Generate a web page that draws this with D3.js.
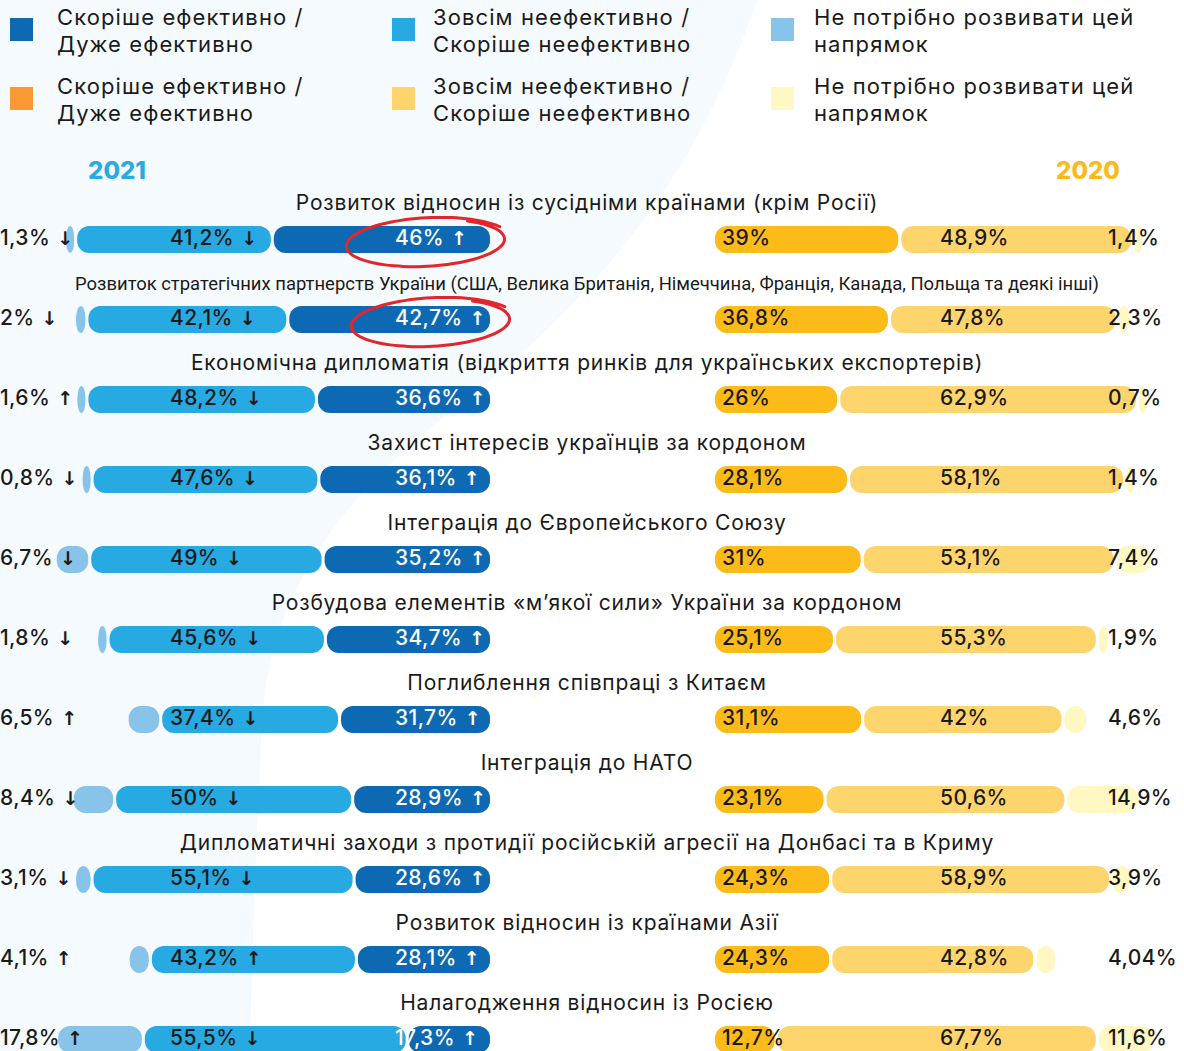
<!DOCTYPE html>
<html>
<head>
<meta charset="utf-8">
<script src="https://cdn.jsdelivr.net/npm/d3@7"></script>
<style>
  body { margin: 0; background: #fff; }
  svg { display: block; font-family: Inter, "Noto Sans", sans-serif; }
</style>
</head>
<body>
<svg id="chart"></svg>
<script>
// Row titles (directions of foreign policy)
var titles = [
    "Розвиток відносин із сусідніми країнами (крім Росії)",
    "Розвиток стратегічних партнерств України (США, Велика Британія, Німеччина, Франція, Канада, Польща та деякі інші)",
    "Економічна дипломатія (відкриття ринків для українських експортерів)",
    "Захист інтересів українців за кордоном",
    "Інтеграція до Європейського Союзу",
    "Розбудова елементів «м’якої сили» України за кордоном",
    "Поглиблення співпраці з Китаєм",
    "Інтеграція до НАТО",
    "Дипломатичні заходи з протидії російській агресії на Донбасі та в Криму",
    "Розвиток відносин із країнами Азії",
    "Налагодження відносин із Росією"
];

// 2021
var eff2021 = [46, 42.7, 36.6, 36.1, 35.2, 34.7, 31.7, 28.9, 28.6, 28.1, 17.3];
var effTrend2021 = ["↑", "↑", "↑", "↑", "↑", "↑", "↑", "↑", "↑", "↑", "↑"];
var ineff2021 = [41.2, 42.1, 48.2, 47.6, 49, 45.6, 37.4, 50, 55.1, 43.2, 55.5];
var ineffTrend2021 = ["↓", "↓", "↓", "↓", "↓", "↓", "↓", "↓", "↓", "↑", "↓"];
var notNeeded2021 = [1.3, 2, 1.6, 0.8, 6.7, 1.8, 6.5, 8.4, 3.1, 4.1, 17.8];
var notNeededTrend2021 = ["↓", "↓", "↑", "↓", "↓", "↓", "↑", "↓", "↓", "↑", "↑"];

// 2020
var eff2020 = [39, 36.8, 26, 28.1, 31, 25.1, 31.1, 23.1, 24.3, 24.3, 12.7];
var ineff2020 = [48.9, 47.8, 62.9, 58.1, 53.1, 55.3, 42, 50.6, 58.9, 42.8, 67.7];
var notNeeded2020 = [1.4, 2.3, 0.7, 1.4, 7.4, 1.9, 4.6, 14.9, 3.9, 4.04, 11.6];

var legendLabels = [
    ["Скоріше ефективно /", "Дуже ефективно"],
    ["Зовсім неефективно /", "Скоріше неефективно"],
    ["Не потрібно розвивати цей", "напрямок"]
];
var years = ["2021", "2020"];
var highlighted = [0, 1]; // rows circled in red

// Colours
var blues = ["#0e69b3", "#27a9e1", "#88c4ea"];
var yellows = ["#fdbb1a", "#fed46c", "#fff8c2"];
var legendYellows = ["#f99b32", "#fed46c", "#fef9c4"];

var width = 1184, height = 1051;
var leftEnd = 490, rightStart = 715, gap = 3, barH = 27;

var x = d3.scaleLinear().domain([0, 100]).range([0, 470]);
var y = d3.scalePoint().domain(titles).range([239.5, 1039.5]);

function fmt(v) { return String(v).replace(".", ",") + "%"; }

var svg = d3.select("#chart").attr("width", width).attr("height", height);

// Background decoration
svg.append("path")
    .attr("d", "M0,0 H757 C700,170 600,300 440,420 C330,510 270,600 262,720 C256,850 252,950 250,1051 H0 Z")
    .attr("fill", "#f5faff");

// Legend
var legend = svg.append("g").attr("class", "legend");
var legendCols = [10, 392, 771];
var legendText = [47, 41, 43];
[blues, legendYellows].forEach(function(cols, r) {
    cols.forEach(function(c, k) {
        var g = legend.append("g").attr("transform", "translate(" + legendCols[k] + "," + (18 + r * 69) + ")");
        g.append("rect").attr("width", 23).attr("height", 23).attr("fill", c);
        var t = g.append("text")
            .attr("font-size", 22)
            .attr("letter-spacing", 1.1)
            .attr("fill", "#1a1a1a");
        legendLabels[k].forEach(function(line, j) {
            t.append("tspan").attr("x", legendText[k]).attr("y", 7 + j * 27).text(line);
        });
    });
});

// Year headers
svg.append("text").attr("x", 117).attr("y", 179).attr("text-anchor", "middle")
    .attr("font-size", 24).attr("font-weight", 800).attr("fill", "#29abe2").text(years[0]);
svg.append("text").attr("x", 1088).attr("y", 179).attr("text-anchor", "middle")
    .attr("font-size", 24).attr("font-weight", 800).attr("fill", "#fbba18").text(years[1]);

// Build segments for each row
var rows = titles.map(function(t, i) {
    var left = [
        { v: eff2021[i], c: blues[0], tc: "#fff", lx: 395, arrow: effTrend2021[i] },
        { v: ineff2021[i], c: blues[1], tc: "#1a1a1a", lx: 170, arrow: ineffTrend2021[i] },
        { v: notNeeded2021[i], c: blues[2], tc: "#1a1a1a", lx: 0, arrow: notNeededTrend2021[i] }
    ];
    var pos = leftEnd;
    left.forEach(function(p) {
        p.w = Math.max(x(p.v), 8);
        p.x0 = pos - p.w;
        pos = p.x0 - gap;
    });
    var right = [
        { v: eff2020[i], c: yellows[0], tc: "#1a1a1a", lx: 722 },
        { v: ineff2020[i], c: yellows[1], tc: "#1a1a1a", lx: 940 },
        { v: notNeeded2020[i], c: yellows[2], tc: "#1a1a1a", lx: 1108 }
    ];
    pos = rightStart;
    right.forEach(function(p) {
        p.w = Math.max(x(p.v), 8);
        p.x0 = pos;
        pos = p.x0 + p.w + gap;
    });
    return { title: t, i: i, segs: left.concat(right) };
});

var row = svg.selectAll(".row")
    .data(rows)
  .enter().append("g")
    .attr("class", "row")
    .attr("transform", function(d) { return "translate(0," + y(d.title) + ")"; });

// Row titles
row.append("text")
    .attr("class", "title")
    .attr("x", 587)
    .attr("y", -29.5)
    .attr("text-anchor", "middle")
    .attr("font-size", 21)
    .attr("letter-spacing", 0.8)
    .attr("fill", "#1a1a1a")
    .each(function(d) {
        // the long title is set in a condensed face
        if (d.title.length > 80) {
            d3.select(this)
                .attr("font-family", "'Liberation Sans Narrow', 'Roboto', sans-serif")
                .attr("font-size", 19)
                .attr("letter-spacing", 0)
                .attr("textLength", 1024)
                .attr("lengthAdjust", "spacingAndGlyphs");
        }
    })
    .text(function(d) { return d.title; });

// Bars
row.selectAll("rect")
    .data(function(d) { return d.segs; })
  .enter().append("rect")
    .attr("x", function(d) { return d.x0; })
    .attr("y", -barH / 2)
    .attr("width", function(d) { return d.w; })
    .attr("height", barH)
    .attr("rx", function(d) { return Math.min(12, d.w / 2); })
    .attr("ry", 12)
    .attr("fill", function(d) { return d.c; });

// Value labels
var label = row.selectAll(".val")
    .data(function(d) { return d.segs; })
  .enter().append("text")
    .attr("class", "val")
    .attr("x", function(d) { return d.lx; })
    .attr("y", 5)
    .attr("font-size", 21)
    .attr("font-weight", 500)
    .attr("letter-spacing", 0.4)
    .attr("fill", function(d) { return d.tc; });

label.append("tspan").text(function(d) { return fmt(d.v); });
label.filter(function(d) { return d.arrow; })
    .append("tspan")
    .attr("dx", 7)
    .attr("font-family", "'DejaVu Sans', sans-serif")
    .attr("font-weight", 700)
    .attr("font-size", 19)
    .text(function(d) { return d.arrow; });

// Red hand-drawn circles around highlighted values
function scribble(cx, cy, rx, ry) {
    var pts = d3.range(0, 1.09, 0.02).map(function(f) {
        var a = -1.0 + f * 2 * Math.PI;
        var k = 0.96 + 0.08 * f;
        return [cx + rx * k * Math.cos(a), cy + ry * k * Math.sin(a)];
    });
    return d3.line().curve(d3.curveBasis)(pts);
}
highlighted.forEach(function(i) {
    var cy = y(titles[i]) + 3;
    var cx = 395 + 32 + i * 5;
    svg.append("path")
        .attr("d", scribble(cx, cy, 80, 24))
        .attr("transform", "rotate(-3," + cx + "," + cy + ")")
        .attr("fill", "none")
        .attr("stroke", "#e3262b")
        .attr("stroke-width", 3)
        .attr("stroke-linecap", "round");
});
</script>
</body>
</html>
